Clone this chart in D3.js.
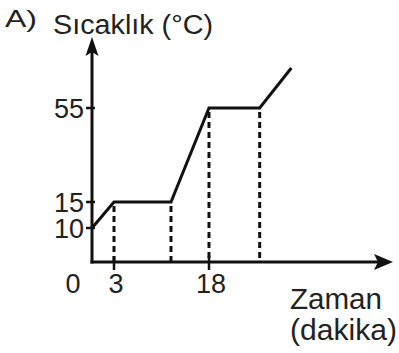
<!DOCTYPE html>
<html>
<head>
<meta charset="utf-8">
<script src="https://cdn.jsdelivr.net/npm/d3@7"></script>
<style>
  html, body { margin: 0; padding: 0; background: #fff; }
  svg { display: block; }
  text { font-family: "Liberation Sans", Arial, sans-serif; fill: #222; }
</style>
</head>
<body>
<svg id="chart" width="399" height="353"></svg>
<script>
// Temperature over time (heating curve)
const times = [0, 3, 12, 18, 26, 31];          // minutes
const temps = [10, 15, 15, 55, 55, 72];        // °C
const xTickValues = [3, 18];
const yTickValues = [10, 15, 55];
const dropTimes = [3, 12, 18, 26];             // dashed guides to the time axis

const svg = d3.select("#chart");

// Schematic (non-uniform) axes, so piecewise-linear scales
const x = d3.scaleLinear().domain([0, 3, 18]).range([92, 114, 209]);
const y = d3.scaleLinear().domain([0, 10, 15, 55]).range([262, 228, 202, 108]);

const ink = "#111";
const points = times.map((t, i) => ({ t, v: temps[i] }));

// Dashed drop lines
svg.append("g").selectAll("line")
  .data(points.filter(p => dropTimes.includes(p.t)))
  .join("line")
  .attr("x1", d => x(d.t)).attr("x2", d => x(d.t))
  .attr("y1", d => y(d.v) + 4).attr("y2", y(0))
  .attr("stroke", ink).attr("stroke-width", 3)
  .attr("stroke-dasharray", "6,4");

// Axes with arrowheads
const axisG = svg.append("g").attr("stroke", ink).attr("stroke-width", 3).attr("fill", "none");
axisG.append("line").attr("x1", x(0)).attr("x2", x(0)).attr("y1", y(0) + 1.5).attr("y2", 52);
axisG.append("line").attr("x1", x(0) - 1.5).attr("x2", 380).attr("y1", y(0)).attr("y2", y(0));

svg.append("path")
  .attr("d", `M${x(0)},37 L${x(0) + 6.5},56 L${x(0)},52 L${x(0) - 6.5},56 Z`)
  .attr("fill", ink);
svg.append("path")
  .attr("d", `M393,${y(0)} L374,${y(0) - 8} L378,${y(0)} L374,${y(0) + 8} Z`)
  .attr("fill", ink);

// Tick marks
svg.append("g").selectAll("line")
  .data(yTickValues).join("line")
  .attr("x1", x(0) - 6).attr("x2", x(0) + 3)
  .attr("y1", d => y(d)).attr("y2", d => y(d))
  .attr("stroke", ink).attr("stroke-width", 2.5);
svg.append("g").selectAll("line")
  .data(xTickValues).join("line")
  .attr("x1", d => x(d)).attr("x2", d => x(d))
  .attr("y1", y(0) - 6).attr("y2", y(0) + 8)
  .attr("stroke", ink).attr("stroke-width", 2.5);

// Temperature curve
svg.append("path")
  .datum(points)
  .attr("d", d3.line().x(d => x(d.t)).y(d => y(d.v)))
  .attr("fill", "none").attr("stroke", ink).attr("stroke-width", 3)
  .attr("stroke-linejoin", "miter");

// Tick labels
const fs = 27;
svg.append("g").selectAll("text")
  .data(yTickValues).join("text")
  .attr("x", 84).attr("y", d => y(d))
  .attr("dy", "0.36em")
  .attr("text-anchor", "end")
  .attr("font-size", fs)
  .text(d => d);
svg.append("g").selectAll("text")
  .data(xTickValues).join("text")
  .attr("x", d => x(d) + 2).attr("y", 293)
  .attr("text-anchor", "middle")
  .attr("font-size", fs)
  .text(d => d);
svg.append("text").attr("x", 73).attr("y", 293)
  .attr("text-anchor", "middle").attr("font-size", fs).text("0");

// Titles
function title(tx, ty, size, len, str) {
  svg.append("text").attr("x", tx).attr("y", ty).attr("font-size", size)
    .attr("textLength", len).attr("lengthAdjust", "spacingAndGlyphs").text(str);
}
title(5, 27, 24, 32, "A)");
title(53, 34, 27, 160, "Sıcaklık (°C)");
title(290, 309, 29, 92, "Zaman");
title(290, 340, 29, 107, "(dakika)");
</script>
</body>
</html>
